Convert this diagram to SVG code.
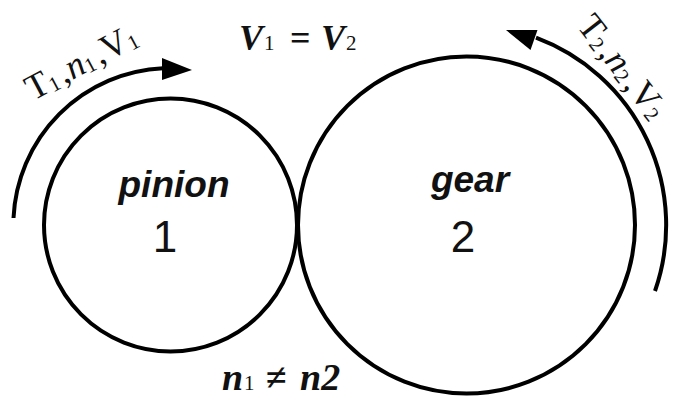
<svg xmlns="http://www.w3.org/2000/svg" width="673" height="397" viewBox="0 0 673 397">
<style>
.c{fill:none;stroke:#000;stroke-width:4}
.m{font-family:"Liberation Serif",serif;fill:#111}
.l{font-family:"Liberation Sans",Arial,sans-serif;fill:#111}
.s{font-size:21px;font-weight:normal;font-style:normal}
</style>
<rect width="673" height="397" fill="#fff"/>
<g id="pinion">
<circle class="c" cx="170.5" cy="225" r="126.5"/>
<text class="l" x="174" y="197" font-size="37" font-weight="bold" font-style="italic" text-anchor="middle">pinion</text>
<text class="l" x="165" y="252" font-size="44" text-anchor="middle">1</text>
</g>
<g id="gear">
<circle class="c" cx="466.5" cy="225" r="168.5"/>
<text class="l" x="470" y="192" font-size="37" font-weight="bold" font-style="italic" text-anchor="middle">gear</text>
<text class="l" x="463" y="252" font-size="44" text-anchor="middle">2</text>
</g>
<g id="connectors">
<path class="c" d="M13.5 218 A157 157 0 0 1 163 68.2"/>
<polygon points="192,70 162,58 162,80"/>
<path class="c" d="M655 291 A200 200 0 0 0 536 37.7"/>
<polygon points="506,30 537.5,30 530.5,50"/>
</g>
<g id="labels">
<text class="m" font-size="36" transform="translate(33,101) rotate(-28)">T<tspan class="s" dy="2">1</tspan><tspan dy="-2" dx="3">,</tspan><tspan font-style="italic">n</tspan><tspan class="s" dy="2">1</tspan><tspan dy="-2" dx="3">,</tspan>V<tspan class="s" dy="2">1</tspan></text>
<text class="m" font-size="36" transform="translate(576,26) rotate(52)">T<tspan class="s" dy="2">2</tspan><tspan dy="-2" dx="3">,</tspan><tspan font-style="italic">n</tspan><tspan class="s" dy="2">2</tspan><tspan dy="-2" dx="3">,</tspan>V<tspan class="s" dy="2">2</tspan></text>
<text class="m" font-size="36" y="50" font-style="italic" font-weight="bold"><tspan x="239">V</tspan><tspan class="s" x="264">1</tspan><tspan x="290" font-style="normal">=</tspan><tspan x="321">V</tspan><tspan class="s" x="346">2</tspan></text>
<text class="m" font-size="38" y="390" font-style="italic" font-weight="bold"><tspan x="222">n</tspan><tspan class="s" x="244">1</tspan><tspan x="266" font-style="normal">≠</tspan><tspan x="300">n2</tspan></text>
</g>
</svg>
